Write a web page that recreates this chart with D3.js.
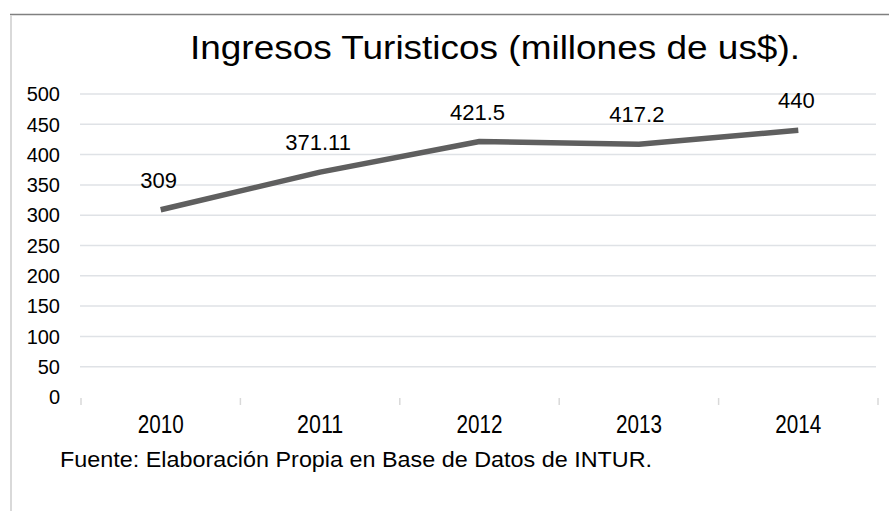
<!DOCTYPE html>
<html>
<head>
<meta charset="utf-8">
<script src="https://cdn.jsdelivr.net/npm/d3@7"></script>
<style>
  html, body { margin: 0; padding: 0; background: #ffffff; }
  svg { display: block; }
</style>
</head>
<body>
<svg id="chart"></svg>
<script>
// chart data
const years = ["2010", "2011", "2012", "2013", "2014"];
const ingresos = [309, 371.11, 421.5, 417.2, 440];
const valueLabels = ["309", "371.11", "421.5", "417.2", "440"];
const yTicks = [0, 50, 100, 150, 200, 250, 300, 350, 400, 450, 500];
const titleText = "Ingresos Turisticos (millones de us$).";
const sourceText = "Fuente: Elaboración Propia en Base de Datos de INTUR.";

function main() {
    const width = 889;
    const height = 511;
    const font = "'Liberation Sans', Arial, sans-serif";

    const svg = d3.select("svg#chart")
        .attr("width", width)
        .attr("height", height);

    svg.append("rect")
        .attr("width", width)
        .attr("height", height)
        .attr("fill", "#ffffff");

    // frame: dark top edge, light left edge
    svg.append("line")
        .attr("x1", 10).attr("x2", width)
        .attr("y1", 14.5).attr("y2", 14.5)
        .attr("stroke", "#808080")
        .attr("stroke-width", 1.5);
    svg.append("line")
        .attr("x1", 11).attr("x2", 11)
        .attr("y1", 15).attr("y2", height)
        .attr("stroke", "#d9d9d9")
        .attr("stroke-width", 2);

    const x = d3.scaleBand().domain(years).range([81, 878]).padding(0);
    const y = d3.scaleLinear().domain([0, 500]).range([397, 94]);

    // gridlines (no line at zero)
    svg.append("g")
        .selectAll("line")
        .data(yTicks.filter(t => t > 0))
        .join("line")
        .attr("x1", 80).attr("x2", 876)
        .attr("y1", d => y(d)).attr("y2", d => y(d))
        .attr("stroke", "#dfe2e6")
        .attr("stroke-width", 1.5);

    // y labels
    svg.append("g")
        .selectAll("text")
        .data(yTicks)
        .join("text")
        .text(d => d)
        .attr("x", 60)
        .attr("y", d => y(d))
        .attr("dy", "0.36em")
        .attr("text-anchor", "end")
        .attr("font-family", font)
        .attr("font-size", 20)
        .attr("fill", "#000000");

    // category boundary ticks
    const bounds = years.map(d => x(d)).concat([x(years[years.length - 1]) + x.bandwidth()]);
    svg.append("g")
        .selectAll("line")
        .data(bounds)
        .join("line")
        .attr("x1", d => d).attr("x2", d => d)
        .attr("y1", 398).attr("y2", 405)
        .attr("stroke", "#d9d9d9")
        .attr("stroke-width", 1.5);

    // x labels
    svg.append("g")
        .selectAll("text")
        .data(years)
        .join("text")
        .text(d => d)
        .attr("x", d => x(d) + x.bandwidth() / 2)
        .attr("y", 433)
        .attr("text-anchor", "middle")
        .attr("font-family", font)
        .attr("font-size", 25)
        .attr("textLength", 46)
        .attr("lengthAdjust", "spacingAndGlyphs")
        .attr("fill", "#000000");

    // the line
    const pts = years.map((d, i) => [x(d) + x.bandwidth() / 2, y(ingresos[i])]);
    svg.append("path")
        .attr("d", d3.line()(pts))
        .attr("fill", "none")
        .attr("stroke", "#5f5f5f")
        .attr("stroke-width", 5.5)
        .attr("stroke-linejoin", "round")
        .attr("stroke-linecap", "butt");

    // value labels over the points
    svg.append("g")
        .selectAll("text")
        .data(pts)
        .join("text")
        .text((d, i) => valueLabels[i])
        .attr("x", d => d[0] - 2)
        .attr("y", d => d[1] - 22)
        .attr("text-anchor", "middle")
        .attr("font-family", font)
        .attr("font-size", 22)
        .attr("fill", "#000000");

    // title
    svg.append("text")
        .text(titleText)
        .attr("x", 495)
        .attr("y", 59)
        .attr("text-anchor", "middle")
        .attr("font-family", font)
        .attr("font-size", 33)
        .attr("textLength", 610)
        .attr("lengthAdjust", "spacingAndGlyphs")
        .attr("fill", "#000000");

    // source note
    svg.append("text")
        .text(sourceText)
        .attr("x", 60)
        .attr("y", 467)
        .attr("font-family", font)
        .attr("font-size", 22)
        .attr("textLength", 592)
        .attr("lengthAdjust", "spacingAndGlyphs")
        .attr("fill", "#000000");
}

main()
</script>
</body>
</html>
